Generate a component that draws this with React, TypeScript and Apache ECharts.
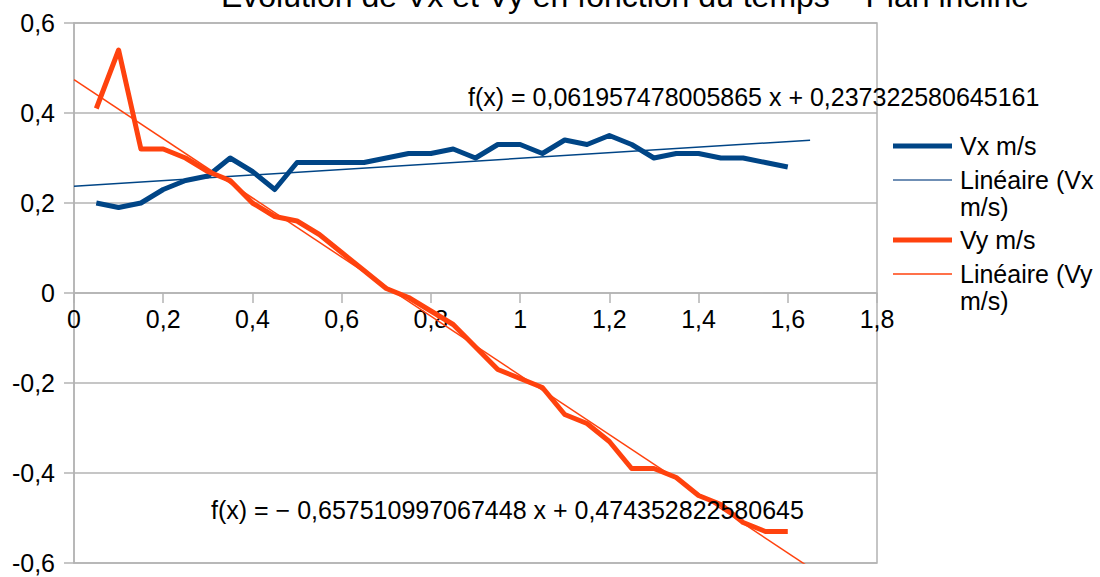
import React, { useEffect, useRef } from "react";
import * as echarts from "echarts";

// ---- data ----
const TIME = [
  0.05, 0.1, 0.15, 0.2, 0.25, 0.3, 0.35, 0.4, 0.45, 0.5, 0.55, 0.6, 0.65, 0.7, 0.75, 0.8,
  0.85, 0.9, 0.95, 1.0, 1.05, 1.1, 1.15, 1.2, 1.25, 1.3, 1.35, 1.4, 1.45, 1.5, 1.55, 1.6,
];
const VX = [
  0.2, 0.19, 0.2, 0.23, 0.25, 0.26, 0.3, 0.27, 0.23, 0.29, 0.29, 0.29, 0.29, 0.3, 0.31, 0.31,
  0.32, 0.3, 0.33, 0.33, 0.31, 0.34, 0.33, 0.35, 0.33, 0.3, 0.31, 0.31, 0.3, 0.3, 0.29, 0.28,
];
const VY = [
  0.41, 0.54, 0.32, 0.32, 0.3, 0.27, 0.25, 0.2, 0.17, 0.16, 0.13, 0.09, 0.05, 0.01, -0.01, -0.04,
  -0.07, -0.12, -0.17, -0.19, -0.21, -0.27, -0.29, -0.33, -0.39, -0.39, -0.41, -0.45, -0.47, -0.51, -0.53, -0.53,
];
// regression coefficients shown on the chart
const VX_SLOPE = 0.061957478005865;
const VX_INTERCEPT = 0.237322580645161;
const VY_SLOPE = -0.657510997067448;
const VY_INTERCEPT = 0.474352822580645;
const TREND_RANGE = [0, 1.65];

const SERIES_NAMES = ["Vx m/s", "Linéaire (Vx m/s)", "Vy m/s", "Linéaire (Vy m/s)"];
const LEGEND_LABELS = ["Vx m/s", "Linéaire (Vx\nm/s)", "Vy m/s", "Linéaire (Vy\nm/s)"];
const TITLE = "Évolution de Vx et Vy en fonction du temps – Plan incliné";
const EQ_VX = "f(x) = 0,061957478005865 x + 0,237322580645161";
const EQ_VY = "f(x) = − 0,657510997067448 x + 0,474352822580645";

const FONT = '"Liberation Sans", Arial, sans-serif';
const FS = 25;
const BLUE = "#004586";
const ORANGE = "#ff420e";
const GRID = "#b3b3b3";

const fmt = (v: number) => String(Math.round(v * 10) / 10).replace(".", ",");

export default function App() {
  const ref = useRef<HTMLDivElement>(null);
  useEffect(() => {
    document.body.style.margin = "0";
    const chart = echarts.init(ref.current!, null, { renderer: "svg" });
    const vxData = TIME.map((t, i) => [t, VX[i]]);
    const vyData = TIME.map((t, i) => [t, VY[i]]);
    const vxTrend = TREND_RANGE.map((t) => [t, VX_INTERCEPT + VX_SLOPE * t]);
    const vyTrend = TREND_RANGE.map((t) => [t, VY_INTERCEPT + VY_SLOPE * t]);

    const legendY = [146, 180, 240, 274];
    const legendTextY = [146, 166.5, 240, 260.5];
    const legendColors = [BLUE, "#6f8fb5", ORANGE, ORANGE];
    const legendWidths = [5, 2, 5, 1.5];
    const legendGraphics: any[] = [];
    LEGEND_LABELS.forEach((lab, i) => {
      legendGraphics.push({
        type: "line",
        shape: { x1: 893, y1: legendY[i], x2: 952, y2: legendY[i] },
        style: { stroke: legendColors[i], lineWidth: legendWidths[i] },
      });
      legendGraphics.push({
        type: "text",
        x: 960,
        y: legendTextY[i],
        style: {
          text: lab,
          fontSize: FS,
          fontFamily: FONT,
          fill: "#000",
          align: "left",
          verticalAlign: lab.includes("\n") ? "top" : "middle",
          lineHeight: 27,
        },
      });
    });

    chart.setOption({
      animation: false,
      backgroundColor: "#fff",
      grid: {
        left: 74,
        right: 223,
        top: 23,
        bottom: 14,
        show: true,
        borderColor: GRID,
        borderWidth: 1.5,
        containLabel: false,
        outerBoundsMode: "none",
      },
      xAxis: {
        type: "value",
        min: 0,
        max: 1.8,
        interval: 0.2,
        position: "bottom",
        offset: -270,
        axisLine: { show: true, onZero: false, lineStyle: { color: GRID, width: 1.5 } },
        axisTick: { show: true, inside: false, length: 10, lineStyle: { color: GRID, width: 1.5 } },
        splitLine: { show: false },
        axisLabel: {
          formatter: fmt,
          fontSize: FS,
          fontFamily: FONT,
          color: "#000",
          margin: 13,
          showMaxLabel: true,
          showMinLabel: true,
        },
      },
      yAxis: {
        type: "value",
        min: -0.6,
        max: 0.6,
        interval: 0.2,
        axisLine: { show: true, onZero: false, lineStyle: { color: GRID, width: 1.5 } },
        axisTick: { show: true, inside: false, length: 10, lineStyle: { color: GRID, width: 1.5 } },
        splitLine: { show: true, lineStyle: { color: GRID, width: 1.5 } },
        axisLabel: {
          formatter: fmt,
          fontSize: FS,
          fontFamily: FONT,
          color: "#000",
          margin: 19,
        },
      },
      series: [
        {
          name: SERIES_NAMES[0],
          type: "line",
          data: vxData,
          symbol: "none",
          lineStyle: { color: BLUE, width: 5, join: "round" },
          itemStyle: { color: BLUE },
        },
        {
          name: SERIES_NAMES[1],
          type: "line",
          data: vxTrend,
          symbol: "none",
          lineStyle: { color: BLUE, width: 1.5 },
          itemStyle: { color: BLUE },
        },
        {
          name: SERIES_NAMES[2],
          type: "line",
          data: vyData,
          symbol: "none",
          lineStyle: { color: ORANGE, width: 5, join: "round" },
          itemStyle: { color: ORANGE },
        },
        {
          name: SERIES_NAMES[3],
          type: "line",
          data: vyTrend,
          symbol: "none",
          clip: true,
          lineStyle: { color: ORANGE, width: 1.5 },
          itemStyle: { color: ORANGE },
        },
      ],
      graphic: [
        {
          type: "text",
          x: 625,
          y: -4,
          style: {
            text: TITLE,
            fontSize: 32,
            fontFamily: FONT,
            fill: "#000",
            align: "center",
            verticalAlign: "middle",
          },
        },
        {
          type: "text",
          x: 468,
          y: 97,
          z: 10,
          style: { text: EQ_VX, fontSize: FS, fontFamily: FONT, fill: "#000", align: "left", verticalAlign: "middle" },
        },
        {
          type: "text",
          x: 211,
          y: 510,
          z: 10,
          style: { text: EQ_VY, fontSize: FS, fontFamily: FONT, fill: "#000", align: "left", verticalAlign: "middle" },
        },
        ...legendGraphics,
      ],
    });
    return () => chart.dispose();
  }, []);
  return <div ref={ref} style={{ width: 1100, height: 577 }} />;
}
